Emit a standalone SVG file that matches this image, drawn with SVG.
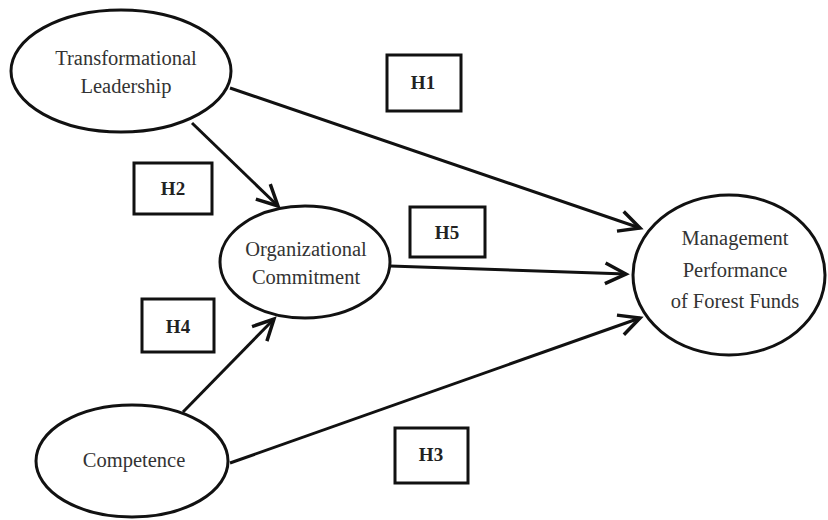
<svg xmlns="http://www.w3.org/2000/svg" width="828" height="520" viewBox="0 0 828 520">
<style>
.node{fill:#fff;stroke:#111;stroke-width:3}
.lbl{font-family:"Liberation Serif","Times New Roman",serif;font-size:20.5px;fill:#333;text-anchor:middle}
.hbox{fill:#fff;stroke:#111;stroke-width:3}
.hl{font-family:"Liberation Serif","Times New Roman",serif;font-size:19px;font-weight:bold;fill:#222;text-anchor:middle}
.conn{stroke:#111;stroke-width:3;fill:none;marker-end:url(#arr)}
</style>
<defs>
<marker id="arr" markerUnits="userSpaceOnUse" markerWidth="30" markerHeight="30" viewBox="-22 -12 26 24" refX="0" refY="0" orient="auto">
<path d="M-18,-9 L0,0 L-18,9" fill="none" stroke="#111" stroke-width="3" stroke-linejoin="miter"/>
</marker>
</defs>
<rect width="828" height="520" fill="#fff"/>
<g id="connectors">
<line class="conn" x1="230" y1="88" x2="640" y2="228"/>
<line class="conn" x1="192" y1="123" x2="278" y2="206"/>
<line class="conn" x1="390" y1="266" x2="626" y2="274"/>
<line class="conn" x1="183" y1="412" x2="274" y2="319"/>
<line class="conn" x1="230" y1="463" x2="640" y2="318"/>
</g>
<g id="tl">
<ellipse class="node" cx="121" cy="71" rx="110" ry="61"/>
<text class="lbl" x="126" y="65">Transformational</text>
<text class="lbl" x="126" y="93">Leadership</text>
</g>
<g id="oc">
<ellipse class="node" cx="305" cy="262" rx="85" ry="56"/>
<text class="lbl" x="306" y="256">Organizational</text>
<text class="lbl" x="306" y="284">Commitment</text>
</g>
<g id="mp">
<ellipse class="node" cx="729" cy="275" rx="96" ry="80"/>
<text class="lbl" x="735" y="245">Management</text>
<text class="lbl" x="735" y="277">Performance</text>
<text class="lbl" x="735" y="308">of Forest Funds</text>
</g>
<g id="comp">
<ellipse class="node" cx="132" cy="461" rx="96" ry="56"/>
<text class="lbl" x="134" y="467">Competence</text>
</g>
<g id="h1">
<rect class="hbox" x="387" y="55" width="74" height="56"/>
<text class="hl" x="423" y="89">H1</text>
</g>
<g id="h2">
<rect class="hbox" x="134" y="163" width="78" height="51"/>
<text class="hl" x="173" y="195">H2</text>
</g>
<g id="h5">
<rect class="hbox" x="410" y="207" width="75" height="50"/>
<text class="hl" x="447" y="239">H5</text>
</g>
<g id="h4">
<rect class="hbox" x="142" y="299" width="72" height="53"/>
<text class="hl" x="178" y="333">H4</text>
</g>
<g id="h3">
<rect class="hbox" x="395" y="428" width="73" height="55"/>
<text class="hl" x="431" y="461">H3</text>
</g>
</svg>
